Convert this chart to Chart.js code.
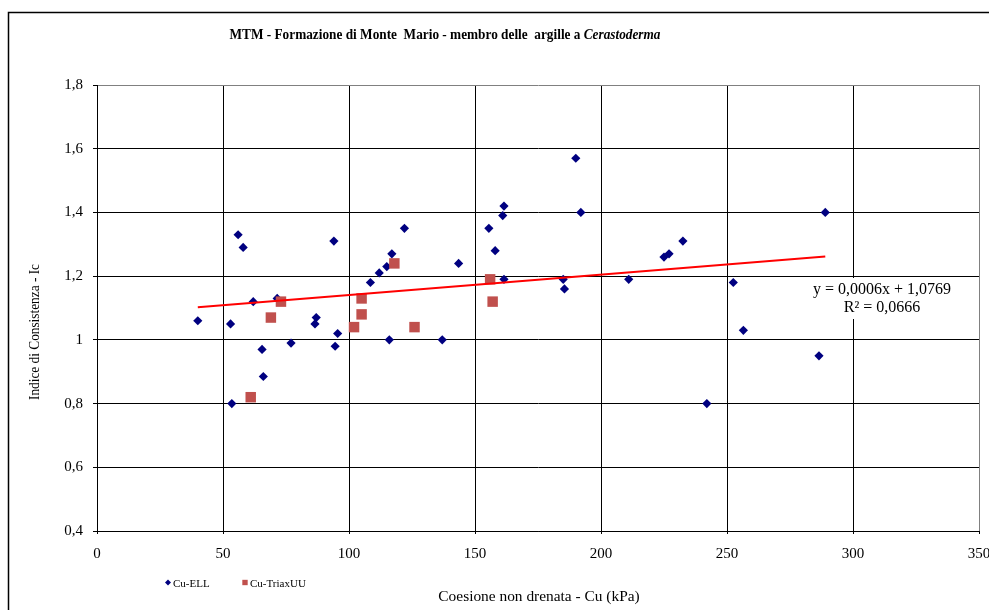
<!DOCTYPE html>
<html>
<head>
<meta charset="utf-8">
<script src="https://cdn.jsdelivr.net/npm/chart.js@4/dist/chart.umd.min.js"></script>
<style>
  html, body { margin: 0; padding: 0; background: #fff; overflow: hidden; width: 989px; height: 610px; }
  #wrap { position: relative; width: 1020px; height: 610px; }
</style>
</head>
<body>
<div id="wrap"><canvas id="c" width="1020" height="610"></canvas></div>
<script>
// Labels
const titleText = 'MTM - Formazione di Monte  Mario - membro delle  argille a ';
const titleItalic = 'Cerastoderma';
const xTitle = 'Coesione non drenata - Cu (kPa)';
const yTitle = 'Indice di Consistenza - Ic';

// Tick values
const xTicks = [0, 50, 100, 150, 200, 250, 300, 350];
const yTicks = [0.4, 0.6, 0.8, 1.0, 1.2, 1.4, 1.6, 1.8];

// Cu-ELL: undrained cohesion (kPa) and consistency index
const ellCu = [56, 58, 94, 108.5, 112, 62, 71.5, 40, 53, 87, 86.5, 95.5, 77, 94.5, 65.5, 66, 53.5,
               190, 192, 161.5, 161, 155.5, 122, 158, 117, 115, 143.5, 161.5, 185, 185.5, 116, 137,
               211, 225, 227, 232.5, 252.5, 256.5, 242, 286.5, 289];
const ellIc = [1.33, 1.29, 1.31, 1.18, 1.21, 1.12, 1.13, 1.06, 1.05, 1.07, 1.05, 1.02, 0.99, 0.98, 0.97, 0.885, 0.80,
               1.57, 1.40, 1.42, 1.39, 1.35, 1.35, 1.28, 1.27, 1.23, 1.24, 1.19, 1.19, 1.16, 1.00, 1.00,
               1.19, 1.26, 1.27, 1.31, 1.18, 1.03, 0.80, 0.95, 1.40];

// Cu-TriaxUU
const triaxCu = [73, 69, 61, 105, 105, 102, 118, 126, 156, 157];
const triaxIc = [1.12, 1.07, 0.82, 1.13, 1.08, 1.04, 1.24, 1.04, 1.19, 1.12];

// Linear trend of the Cu-ELL series (shown rounded to 4 decimals)
const trendSlope = 0.00064;
const trendIntercept = 1.0769;
const trendR2 = 0.0666;

const FONT = '"Liberation Serif", "Times New Roman", serif';
const comma = (v, d) => v.toFixed(d).replace('.', ',');

const trendX = [Math.min(...ellCu), Math.max(...ellCu)];
const trendPts = trendX.map(x => ({ x, y: trendIntercept + trendSlope * x }));

const decor = {
  id: 'decor',
  afterDraw(chart) {
    const ctx = chart.ctx;
    ctx.save();

    // outer frame
    ctx.strokeStyle = '#000';
    ctx.lineWidth = 1.5;
    ctx.strokeRect(8.5, 12.5, 1100, 700);

    // title (bold, last word italic), set in a narrow serif face
    ctx.fillStyle = '#000';
    ctx.textBaseline = 'middle';
    ctx.textAlign = 'left';
    const fN = 'bold 15px ' + FONT, fI = 'italic bold 15px ' + FONT;
    ctx.font = fN; const w1 = ctx.measureText(titleText).width;
    ctx.font = fI; const w2 = ctx.measureText(titleItalic).width;
    const sx = 431 / (w1 + w2);
    ctx.save();
    ctx.translate(445 - 431 / 2, 35);
    ctx.scale(sx, 1);
    ctx.font = fN; ctx.fillText(titleText, 0, 0);
    ctx.font = fI; ctx.fillText(titleItalic, w1, 0);
    ctx.restore();

    // axis titles
    ctx.font = '15.4px ' + FONT;
    ctx.textAlign = 'center';
    ctx.fillText(xTitle, 539, 597);
    ctx.save();
    ctx.font = '15px ' + FONT;
    const wy = ctx.measureText(yTitle).width;
    ctx.translate(35, 332);
    ctx.rotate(-Math.PI / 2);
    ctx.scale(136 / wy, 1);
    ctx.fillText(yTitle, 0, 0);
    ctx.restore();

    // trend equation box
    const ex = 882;
    ctx.fillStyle = '#fff';
    ctx.fillRect(ex - 73, 278, 146, 41);
    ctx.fillStyle = '#000';
    ctx.font = '16px ' + FONT;
    ctx.fillText('y = ' + comma(trendSlope, 4) + 'x + ' + comma(trendIntercept, 4), ex, 290);
    ctx.fillText('R\u00B2 = ' + comma(trendR2, 4), ex, 308);

    // legend
    ctx.font = '11px ' + FONT;
    ctx.textAlign = 'left';
    const items = [
      { ds: chart.data.datasets[0], x: 168, r: 3 },
      { ds: chart.data.datasets[1], x: 245, r: 3.8 }
    ];
    items.forEach(it => {
      ctx.fillStyle = it.ds.backgroundColor;
      ctx.strokeStyle = it.ds.borderColor;
      Chart.helpers.drawPoint(ctx, { pointStyle: it.ds.pointStyle, radius: it.r, borderWidth: 0 }, it.x, 582.5);
      ctx.fillStyle = '#000';
      ctx.fillText(it.ds.label, it.x + 5, 584);
    });
    ctx.restore();
  }
};

new Chart(document.getElementById('c'), {
  type: 'scatter',
  data: {
    datasets: [
      {
        label: 'Cu-ELL',
        data: ellCu.map((x, i) => ({ x, y: ellIc[i] })),
        pointStyle: 'rectRot',
        pointRadius: 4.6,
        backgroundColor: '#000080',
        borderColor: '#000080',
        borderWidth: 0,
        order: 3
      },
      {
        label: 'Cu-TriaxUU',
        data: triaxCu.map((x, i) => ({ x, y: triaxIc[i] })),
        pointStyle: 'rect',
        pointRadius: 7.4,
        backgroundColor: '#C0504D',
        borderColor: '#C0504D',
        borderWidth: 0,
        order: 2
      },
      {
        label: 'trend',
        data: trendPts,
        showLine: true,
        pointRadius: 0,
        borderColor: '#FF0000',
        borderWidth: 2,
        fill: false,
        order: 1
      }
    ]
  },
  options: {
    responsive: false,
    animation: false,
    devicePixelRatio: 1,
    layout: { padding: { left: 0, top: 85, right: 41, bottom: 0 } },
    plugins: { legend: { display: false }, title: { display: false }, tooltip: { enabled: false } },
    scales: {
      x: {
        type: 'linear',
        min: 0, max: 350,
        afterBuildTicks: s => { s.ticks = xTicks.map(v => ({ value: v })); },
        afterFit: s => { s.height = 79; },
        ticks: {
          font: { family: FONT, size: 15 },
          color: '#000',
          padding: 11,
          maxRotation: 0,
          callback: v => String(v)
        },
        grid: {
          color: c => (c.tick && c.tick.value === 350 ? '#808080' : '#000'),
          tickColor: '#000',
          tickLength: 3,
          lineWidth: 1
        },
        border: { display: true, color: '#000', width: 1 }
      },
      y: {
        type: 'linear',
        min: 0.4, max: 1.8,
        afterBuildTicks: s => { s.ticks = yTicks.map(v => ({ value: v })); },
        afterFit: s => { s.width = 97; },
        ticks: {
          font: { family: FONT, size: 15 },
          color: '#000',
          padding: 10,
          callback: v => comma(Number(v.toFixed(1)), 1).replace(/,0$/, '')
        },
        grid: {
          color: c => (c.tick && Math.abs(c.tick.value - 1.8) < 1e-9 ? '#808080' : '#000'),
          tickColor: '#000',
          tickLength: 4,
          lineWidth: 1
        },
        border: { display: true, color: '#000', width: 1 }
      }
    }
  },
  plugins: [decor]
});
</script>
</body>
</html>
